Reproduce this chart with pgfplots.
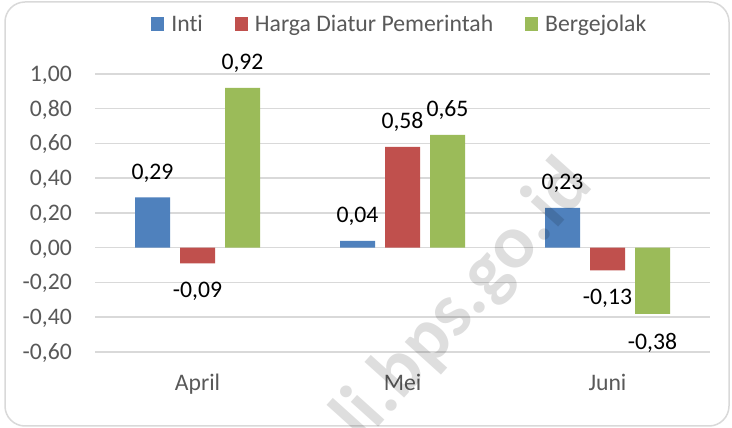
\documentclass[border=0pt]{standalone}
\usepackage{pgfplots}
\pgfplotsset{compat=1.18}
\usepackage{fontspec}
\setmainfont{Carlito}[Ligatures={NoCommon}]
\definecolor{cblue}{HTML}{4F81BD}
\definecolor{cred}{HTML}{C0504D}
\definecolor{cgreen}{HTML}{9BBB59}
\definecolor{gridc}{HTML}{D9D9D9}
\definecolor{labc}{HTML}{595959}
\pgfplotsset{sqlegend/.style={legend image code/.code={\fill[##1] (0bp,-7bp) rectangle (13bp,7bp);}}}
\begin{document}
\begin{tikzpicture}[font=\fontsize{23.7bp}{28bp}\selectfont]
\useasboundingbox (0,0) rectangle (732bp,428bp);
\fill[white] (0,0) rectangle (732bp,428bp);
\draw[gridc, line width=1.5bp, rounded corners=20bp] (5bp,2bp) rectangle (729bp,426bp);
\begin{axis}[
  at={(95bp,76bp)}, anchor=south west,
  scale only axis, width=615bp, height=278bp,
  ybar=10bp, bar width=35bp,
  xmin=-0.5, xmax=2.5, ymin=-0.6, ymax=1.0,
  xtick={0,1,2}, xticklabels={April,Mei,Juni},
  ytick={-0.6,-0.4,-0.2,0,0.2,0.4,0.6,0.8,1.0},
  ymajorgrids, grid style={gridc, line width=1.5bp},
  axis line style={draw=none}, major tick length=0pt,
  /pgf/number format/fixed, /pgf/number format/fixed zerofill,
  /pgf/number format/precision=2, /pgf/number format/use comma,
  /pgf/number format/assume math mode=true,
  yticklabel style={anchor=base east, inner sep=0pt, xshift=-23bp, yshift=-7.5bp, text=labc},
  xticklabel style={anchor=base, inner sep=0pt, yshift=-39bp, text=labc},
  visualization depends on={rawy \as \rawy},
  nodes near coords={\pgfmathprintnumber[fixed,fixed zerofill,precision=2,use comma,assume math mode=true]{\pgfplotspointmeta}},
  every node near coord/.append style={text=black, inner xsep=0pt, inner ysep=15bp, yshift={\rawy<0 ? -4 : 0}},
  legend columns=3,
  legend style={at={(0.494,1.18)}, anchor=center, draw=none, fill=none, inner sep=0pt, text=labc,
    /tikz/every even column/.append style={column sep=32bp},
    /tikz/every odd column/.append style={column sep=7bp},
    nodes={inner sep=0pt}},
]
\addplot[fill=cblue, draw=none, sqlegend] coordinates {(0,0.29) (1,0.04) (2,0.23)};
\addplot[fill=cred, draw=none, sqlegend] coordinates {(0,-0.09) (1,0.58) (2,-0.13)};
\addplot[fill=cgreen, draw=none, sqlegend] coordinates {(0,0.92) (1,0.65) (2,-0.38)};
\legend{Inti, Harga Diatur Pemerintah, Bergejolak}
\end{axis}
\node[rotate=48, anchor=east, text=black, text opacity=0.13, font=\fontsize{76bp}{76bp}\selectfont\bfseries, inner sep=0pt] at (580bp,255bp) {li.bps.go.id};
\end{tikzpicture}
\end{document}
